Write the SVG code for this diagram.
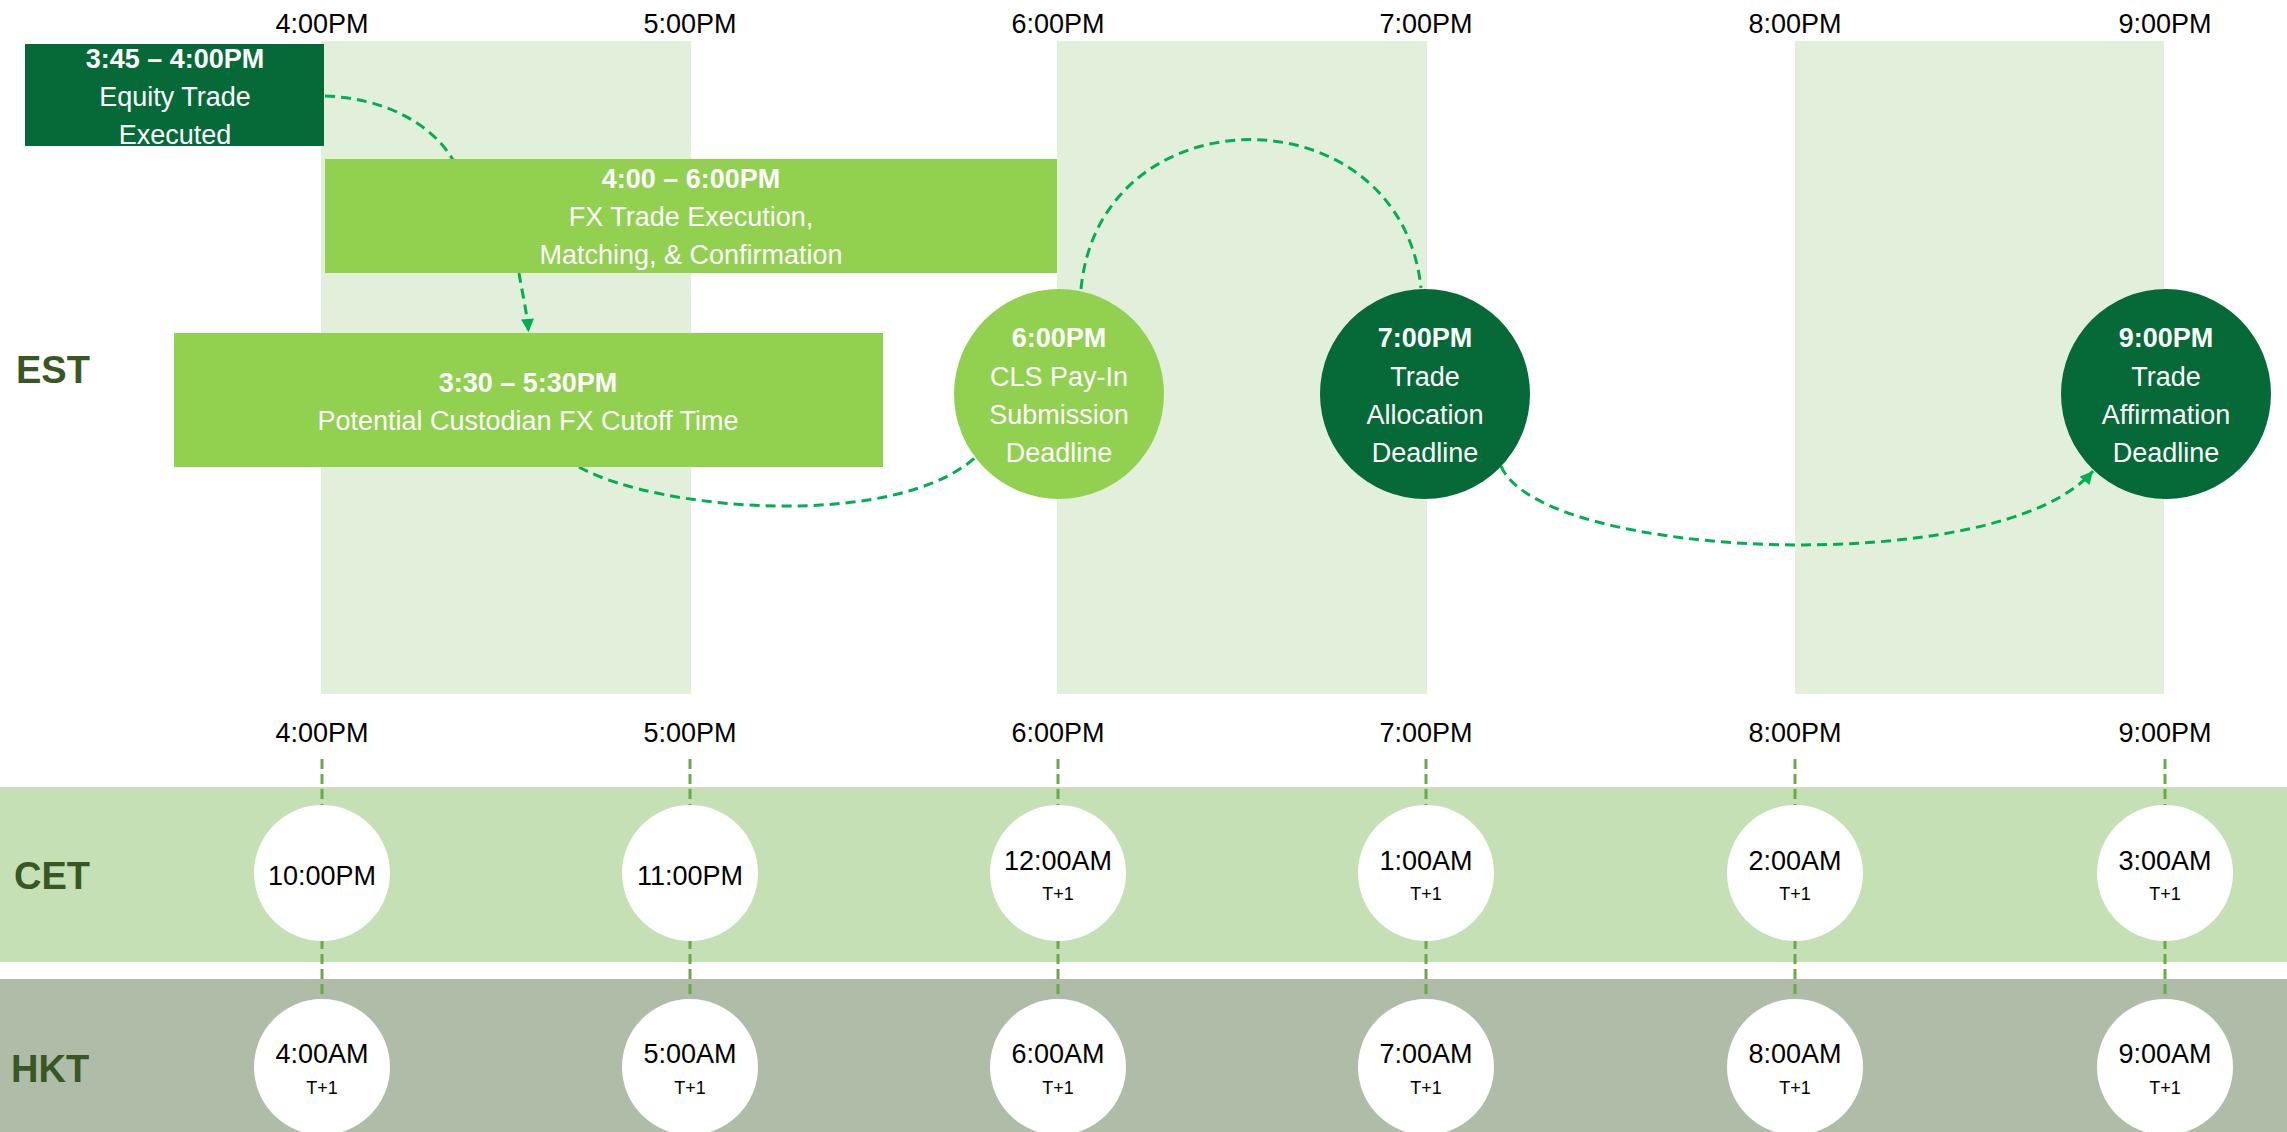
<svg xmlns="http://www.w3.org/2000/svg" width="2287" height="1132" viewBox="0 0 2287 1132">
<defs>
<style>
.t{font-family:"Liberation Sans",Arial,sans-serif;text-anchor:middle}
.hr{font-size:27px;fill:#000}
.w{fill:#fff;font-size:27px}
.wb{fill:#fff;font-size:27px;font-weight:bold}
.zone{font-family:"Liberation Sans",Arial,sans-serif;font-weight:bold;font-size:38px;fill:#385723}
.ct{font-size:27px;fill:#000}
.ts{font-size:18px;fill:#000}
.band{fill:#E2EFDA}
.dark{fill:#066A38}
.lite{fill:#92D050}
.wc{fill:#fff}
.conn{fill:none;stroke:#00B050;stroke-width:3;stroke-dasharray:10 6}
.vl{fill:none;stroke:#6AAA45;stroke-width:3;stroke-dasharray:10 5}
</style>
<marker id="ah" viewBox="0 0 10 10" refX="10" refY="5" markerWidth="15" markerHeight="13" markerUnits="userSpaceOnUse" orient="auto">
<path d="M0,0 L10,5 L0,10 z" fill="#00B050"/>
</marker>
</defs>
<rect width="2287" height="1132" fill="#fff"/>
<g id="bands">
<rect class="band" x="321" y="41" width="370" height="653"/>
<rect class="band" x="1057" y="41" width="370" height="653"/>
<rect class="band" x="1795" y="41" width="369" height="653"/>
<rect x="0" y="787" width="2287" height="175" fill="#C5E0B4"/>
<rect x="0" y="979" width="2287" height="153" fill="#AFBCA8"/>
</g>
<g id="hour-labels">
<text class="t hr" x="322" y="33">4:00PM</text>
<text class="t hr" x="690" y="33">5:00PM</text>
<text class="t hr" x="1058" y="33">6:00PM</text>
<text class="t hr" x="1426" y="33">7:00PM</text>
<text class="t hr" x="1795" y="33">8:00PM</text>
<text class="t hr" x="2165" y="33">9:00PM</text>
<text class="t hr" x="322" y="742">4:00PM</text>
<text class="t hr" x="690" y="742">5:00PM</text>
<text class="t hr" x="1058" y="742">6:00PM</text>
<text class="t hr" x="1426" y="742">7:00PM</text>
<text class="t hr" x="1795" y="742">8:00PM</text>
<text class="t hr" x="2165" y="742">9:00PM</text>
</g>
<g id="zone-labels">
<text class="zone" x="16" y="383">EST</text>
<text class="zone" x="14" y="889">CET</text>
<text class="zone" x="11" y="1082">HKT</text>
</g>
<g id="connectors">
<path class="conn" d="M325,96 C385,98 432,124 453,160"/>
<path class="conn" d="M519,273 C522,292 527,312 528.5,332" marker-end="url(#ah)"/>
<path class="conn" d="M579,467 C660,512 900,530 978,455"/>
<path class="conn" d="M1081,289 C1100,90 1400,90 1421,288"/>
<path class="conn" d="M1501,466 C1540,560 2000,580 2093,471" marker-end="url(#ah)"/>
<path class="vl" d="M322,759 V1000"/>
<path class="vl" d="M690,759 V1000"/>
<path class="vl" d="M1058,759 V1000"/>
<path class="vl" d="M1426,759 V1000"/>
<path class="vl" d="M1795,759 V1000"/>
<path class="vl" d="M2165,759 V1000"/>
</g>
<g id="equity-trade">
<rect class="dark" x="25" y="44" width="299" height="102"/>
<text class="t wb" x="175" y="68">3:45 – 4:00PM</text>
<text class="t w" x="175" y="106">Equity Trade</text>
<text class="t w" x="175" y="144">Executed</text>
</g>
<g id="fx-trade">
<rect class="lite" x="325" y="159" width="732" height="114"/>
<text class="t wb" x="691" y="188">4:00 – 6:00PM</text>
<text class="t w" x="691" y="226">FX Trade Execution,</text>
<text class="t w" x="691" y="264">Matching, &amp; Confirmation</text>
</g>
<g id="custodian-cutoff">
<rect class="lite" x="174" y="333" width="709" height="134"/>
<text class="t wb" x="528" y="392">3:30 – 5:30PM</text>
<text class="t w" x="528" y="430">Potential Custodian FX Cutoff Time</text>
</g>
<g id="cls-payin">
<circle class="lite" cx="1059" cy="394" r="105"/>
<text class="t wb" x="1059" y="347">6:00PM</text>
<text class="t w" x="1059" y="386">CLS Pay-In</text>
<text class="t w" x="1059" y="424">Submission</text>
<text class="t w" x="1059" y="462">Deadline</text>
</g>
<g id="trade-allocation">
<circle class="dark" cx="1425" cy="394" r="105"/>
<text class="t wb" x="1425" y="347">7:00PM</text>
<text class="t w" x="1425" y="386">Trade</text>
<text class="t w" x="1425" y="424">Allocation</text>
<text class="t w" x="1425" y="462">Deadline</text>
</g>
<g id="trade-affirmation">
<circle class="dark" cx="2166" cy="394" r="105"/>
<text class="t wb" x="2166" y="347">9:00PM</text>
<text class="t w" x="2166" y="386">Trade</text>
<text class="t w" x="2166" y="424">Affirmation</text>
<text class="t w" x="2166" y="462">Deadline</text>
</g>
<g id="cet-1"><circle class="wc" cx="322" cy="873" r="68"/><text class="t ct" x="322" y="885">10:00PM</text></g>
<g id="cet-2"><circle class="wc" cx="690" cy="873" r="68"/><text class="t ct" x="690" y="885">11:00PM</text></g>
<g id="cet-3"><circle class="wc" cx="1058" cy="873" r="68"/><text class="t ct" x="1058" y="870">12:00AM</text><text class="t ts" x="1058" y="900">T+1</text></g>
<g id="cet-4"><circle class="wc" cx="1426" cy="873" r="68"/><text class="t ct" x="1426" y="870">1:00AM</text><text class="t ts" x="1426" y="900">T+1</text></g>
<g id="cet-5"><circle class="wc" cx="1795" cy="873" r="68"/><text class="t ct" x="1795" y="870">2:00AM</text><text class="t ts" x="1795" y="900">T+1</text></g>
<g id="cet-6"><circle class="wc" cx="2165" cy="873" r="68"/><text class="t ct" x="2165" y="870">3:00AM</text><text class="t ts" x="2165" y="900">T+1</text></g>
<g id="hkt-1"><circle class="wc" cx="322" cy="1067" r="68"/><text class="t ct" x="322" y="1063">4:00AM</text><text class="t ts" x="322" y="1094">T+1</text></g>
<g id="hkt-2"><circle class="wc" cx="690" cy="1067" r="68"/><text class="t ct" x="690" y="1063">5:00AM</text><text class="t ts" x="690" y="1094">T+1</text></g>
<g id="hkt-3"><circle class="wc" cx="1058" cy="1067" r="68"/><text class="t ct" x="1058" y="1063">6:00AM</text><text class="t ts" x="1058" y="1094">T+1</text></g>
<g id="hkt-4"><circle class="wc" cx="1426" cy="1067" r="68"/><text class="t ct" x="1426" y="1063">7:00AM</text><text class="t ts" x="1426" y="1094">T+1</text></g>
<g id="hkt-5"><circle class="wc" cx="1795" cy="1067" r="68"/><text class="t ct" x="1795" y="1063">8:00AM</text><text class="t ts" x="1795" y="1094">T+1</text></g>
<g id="hkt-6"><circle class="wc" cx="2165" cy="1067" r="68"/><text class="t ct" x="2165" y="1063">9:00AM</text><text class="t ts" x="2165" y="1094">T+1</text></g>
</svg>
